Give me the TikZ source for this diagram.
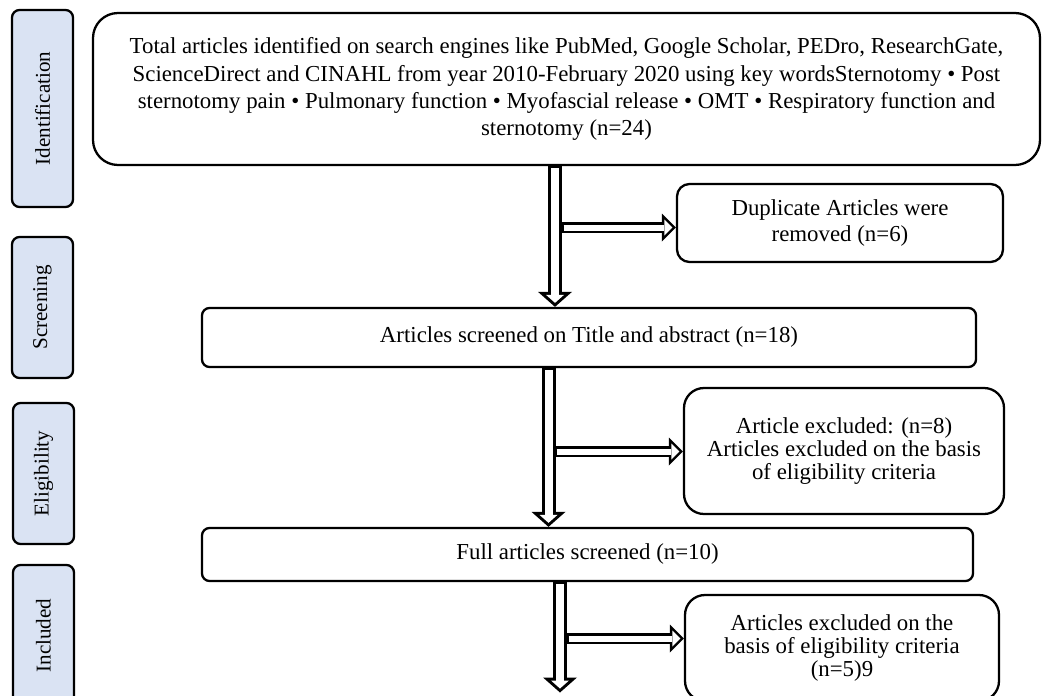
\documentclass[tikz,border=0pt]{standalone}
\usepackage{fontspec}
\setmainfont{Liberation Serif}
\usepackage{tikz}
\usetikzlibrary{arrows.meta}

\definecolor{stagefill}{HTML}{DAE3F3}

\tikzset{
    box/.style={draw, line width=1.3pt, fill=white, align=center, inner sep=2pt,
        font=\fontsize{13}{13.2}\selectfont},
    stage/.style={box, fill=stagefill, rotate=90, rounded corners=0.15cm,
        minimum height=1.22cm, font=\fontsize{12}{14}\selectfont},
    varrow/.style={line width=0.28cm,
        -{Triangle[length=0.3cm, width=0.68cm, line width=0pt]},
        postaction={draw=white, line width=0.16cm, shorten <=0.04cm, shorten >=0.08cm,
            -{Triangle[length=0.16cm, width=0.36cm, line width=0pt]}}},
    harrow/.style={line width=0.22cm,
        -{Triangle[length=0.28cm, width=0.56cm, line width=0pt]},
        postaction={draw=white, line width=0.12cm, shorten <=0.05cm, shorten >=0.07cm,
            -{Triangle[length=0.16cm, width=0.32cm, line width=0pt]}}}
}

\begin{document}
\begin{tikzpicture}

    \useasboundingbox (0, 0) rectangle (20.86, 13.9);
    \clip (0, 0) rectangle (20.86, 13.9);

    \path node (ident) [stage, minimum width=3.94cm] at (0.85, 11.73) {Identification};
    \path node (screen) [stage, minimum width=2.82cm] at (0.85, 7.75) {Screening};
    \path node (elig) [stage, minimum width=2.82cm] at (0.87, 4.43) {Eligibility};
    \path node (incl) [stage, minimum width=2.82cm] at (0.87, 1.19) {Included};

    \path node (total) [box, rounded corners=0.5cm, minimum width=18.94cm, minimum height=3.04cm,
        font=\fontsize{13}{15.4}\selectfont] at (11.33, 12.12)
        {Total articles identified on search engines like PubMed, Google Scholar, PEDro, ResearchGate,\\
         ScienceDirect and CINAHL from year 2010-February 2020 using key wordsSternotomy • Post\\
         sternotomy pain • Pulmonary function • Myofascial release • OMT • Respiratory function and\\
         sternotomy (n=24)};
    \path node (dup) [box, rounded corners=0.25cm, minimum width=6.52cm, minimum height=1.56cm,
        font=\fontsize{13}{14.5}\selectfont] at (16.8, 9.44)
        {Duplicate Articles were\\ removed (n=6)};
    \path node (title) [box, rounded corners=0.15cm, minimum width=15.48cm, minimum height=1.18cm] at (11.78, 7.15)
        {Articles screened on Title and abstract (n=18)};
    \path node (excl) [box, rounded corners=0.4cm, minimum width=6.4cm, minimum height=2.52cm] at (16.88, 4.88)
        {Article excluded: (n=8)\\ Articles excluded on the basis\\ of eligibility criteria};
    \path node (full) [box, rounded corners=0.15cm, minimum width=15.42cm, minimum height=1.06cm] at (11.75, 2.81)
        {Full articles screened (n=10)};
    \path node (crit) [box, rounded corners=0.4cm, minimum width=6.28cm, minimum height=2.12cm] at (16.84, 0.94)
        {Articles excluded on the\\ basis of eligibility criteria\\ (n=5)9};

    \coordinate (s1) at (11.10, 0);
    \coordinate (s2) at (10.97, 0);
    \coordinate (s3) at (11.20, 0);
    \coordinate (b1) at (11.22, 9.35);
    \coordinate (b2) at (11.08, 4.87);
    \coordinate (b3) at (11.32, 1.13);
    \coordinate (end) at (11.20, 0.05);

    \draw[varrow] (total.south -| s1) -- (title.north -| s1);
    \draw[harrow] (b1) -- (b1 -| dup.west);
    \draw[varrow] (title.south -| s2) -- (full.north -| s2);
    \draw[harrow] (b2) -- (b2 -| excl.west);
    \draw[varrow] (full.south -| s3) -- (end);
    \draw[harrow] (b3) -- (b3 -| crit.west);

\end{tikzpicture}
\end{document}
